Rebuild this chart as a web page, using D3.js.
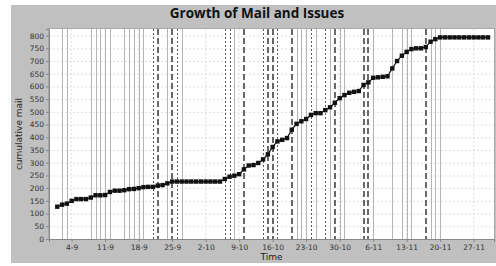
<!DOCTYPE html>
<html><head><meta charset="utf-8">
<script src="https://cdn.jsdelivr.net/npm/d3@7"></script>
<style>body{margin:0;background:#fff}svg{display:block}</style>
</head><body><svg id="c" width="496" height="266"></svg>
<script>
const title = "Growth of Mail and Issues";
const yLabel = "cumulative mail";
const xLabel = "Time";
const startDate = "2008-09-01";
const mailValues = [127,135,139,150,157,157,157,163,172,172,173,185,190,190,192,196,197,200,204,205,205,210,212,219,
 226,226,226,226,226,226,226,226,226,226,226,
 236,245,249,255,274,289,291,299,313,333,362,384,390,397,430,
 453,463,472,488,495,495,507,518,536,554,566,575,579,582,606,616,634,636,638,640,671,700,721,736,747,750,750,755,776,786,
 793,793,793,793,793,793,793,793,793,793,793];
const solidEvents = ["09-02","09-03","09-08","09-09","09-10","09-11","09-12","09-15","09-16","09-17","09-18","09-19","09-24","09-27","10-08","10-21","10-22","10-23","10-25","10-28","10-30","10-31","11-06","11-10","11-12","11-13","11-14","11-18","11-19","11-20"];
const dottedEvents = ["09-21","09-26","10-06","10-07","10-14","10-17","10-24","10-27"];
const dashedEvents = ["09-22","09-25","10-10","10-15","10-16","10-20","10-29","11-04","11-05","11-17"];
const yTicks = [0,50,100,150,200,250,300,350,400,450,500,550,600,650,700,750,800];
const yMax = 826;

const svg = d3.select("#c");
const W = 496, H = 266;
const m = {left:49, top:29, right:494, bottom:239};
const parse = s => new Date(s + "T00:00:00Z");
const d0 = parse(startDate);
const data = mailValues.map((v,i)=>({d:d3.utcDay.offset(d0,i), v}));
const ev = s => parse("2008-" + s);

const x = d3.scaleUtc()
  .domain([new Date(+d0 - 1.73*864e5), new Date(+d0 + 91.25*864e5)])
  .range([m.left, m.right]);
const y = d3.scaleLinear().domain([0,yMax]).range([m.bottom, m.top]);

// backgrounds
svg.append("rect").attr("x",11).attr("y",5).attr("width",W).attr("height",258).attr("fill","#c0c0c0");
svg.append("rect").attr("x",m.left).attr("y",m.top).attr("width",m.right-m.left).attr("height",m.bottom-m.top).attr("fill","#fff");

// grid
const xTickDates = d3.range(0,13).map(k=>d3.utcDay.offset(parse("2008-09-04"),7*k));
svg.append("g").selectAll("line").data(yTicks).join("line")
  .attr("x1",m.left).attr("x2",m.right).attr("y1",d=>y(d)+0.5).attr("y2",d=>y(d)+0.5)
  .attr("stroke","#d8d8d8").attr("stroke-width",0.8).attr("stroke-dasharray","2,2");
svg.append("g").selectAll("line").data(xTickDates).join("line")
  .attr("x1",d=>x(d)).attr("x2",d=>x(d)).attr("y1",m.top).attr("y2",m.bottom)
  .attr("stroke","#d8d8d8").attr("stroke-width",0.8).attr("stroke-dasharray","2,2");

// event markers
const mk = svg.append("g");
mk.selectAll(".s").data(solidEvents).join("line").attr("class","s")
  .attr("x1",d=>Math.round(x(ev(d)))+0.5).attr("x2",d=>Math.round(x(ev(d)))+0.5)
  .attr("y1",m.top).attr("y2",m.bottom).attr("stroke","#b4b4b4").attr("stroke-width",1);
mk.selectAll(".o").data(dottedEvents).join("line").attr("class","o")
  .attr("x1",d=>Math.round(x(ev(d)))+0.5).attr("x2",d=>Math.round(x(ev(d)))+0.5)
  .attr("y1",m.top).attr("y2",m.bottom).attr("stroke","#5a5a5a").attr("stroke-width",1).attr("stroke-dasharray","2,2");
mk.selectAll(".h").data(dashedEvents).join("line").attr("class","h")
  .attr("x1",d=>Math.round(x(ev(d)))).attr("x2",d=>Math.round(x(ev(d))))
  .attr("y1",m.top).attr("y2",m.bottom).attr("stroke","#444").attr("stroke-width",1.6).attr("stroke-dasharray","6,3");

// series
svg.append("path").datum(data)
  .attr("d", d3.line().x(d=>x(d.d)).y(d=>y(d.v)))
  .attr("fill","none").attr("stroke","#111").attr("stroke-width",1.2);
svg.append("g").selectAll("rect").data(data).join("rect")
  .attr("x",d=>x(d.d)-2.2).attr("y",d=>y(d.v)-2.2).attr("width",4.4).attr("height",4.4).attr("fill","#111");

// plot border
svg.append("rect").attr("x",m.left-0.5).attr("y",m.top-0.5).attr("width",m.right-m.left+1).attr("height",m.bottom-m.top+1)
  .attr("fill","none").attr("stroke","#a8a8a8").attr("stroke-width",1);

// axes
const fam = "'DejaVu Sans', sans-serif";
const yAxis = svg.append("g").attr("transform",`translate(${m.left},0)`)
  .call(d3.axisLeft(y).tickValues(yTicks).tickSize(3).tickPadding(2));
const xAxis = svg.append("g").attr("transform",`translate(0,${m.bottom})`)
  .call(d3.axisBottom(x).tickValues(xTickDates).tickSize(3).tickPadding(3).tickFormat(d3.utcFormat("%-d-%-m")));
[yAxis,xAxis].forEach(g=>{
  g.select(".domain").attr("stroke","#888");
  g.selectAll(".tick line").attr("stroke","#888");
  g.selectAll("text").attr("fill","#333").style("font-family",fam).style("font-size","7.5px");
});

// titles
svg.append("text").attr("x",257).attr("y",18).attr("text-anchor","middle")
  .style("font-family","'Open Sans', sans-serif").style("font-weight","bold").style("font-size","13.5px").attr("fill","#111").text(title);
svg.append("text").attr("transform",`translate(22,${(m.top+m.bottom)/2}) rotate(-90)`).attr("text-anchor","middle")
  .style("font-family",fam).style("font-size","9px").attr("fill","#222").text(yLabel);
svg.append("text").attr("x",(m.left+m.right)/2).attr("y",260).attr("text-anchor","middle")
  .style("font-family",fam).style("font-size","9px").attr("fill","#222").text(xLabel);
</script></body></html>
